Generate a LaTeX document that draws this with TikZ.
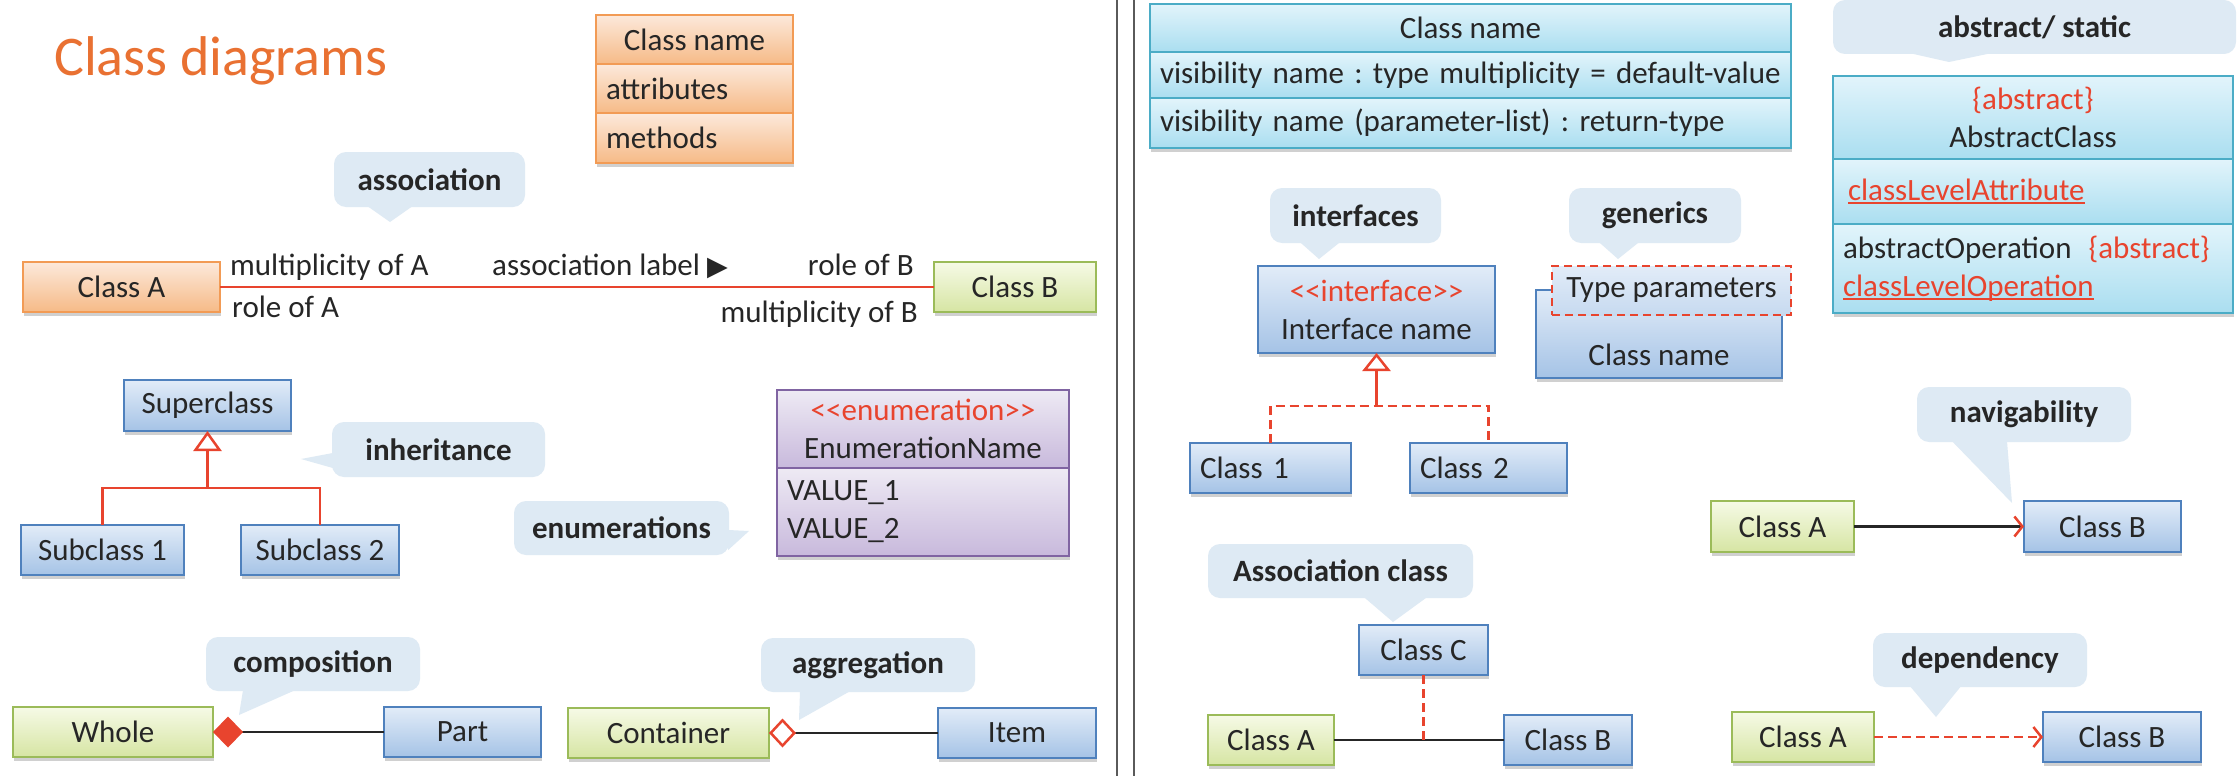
\documentclass[tikz,border=0pt]{standalone}
\usepackage{fontspec}
\setmainfont{Carlito}
\newfontfamily\symfont{DejaVu Sans}
\usetikzlibrary{positioning,arrows.meta,shadows}

\definecolor{umlred}{RGB}{232,68,46}
\definecolor{titleorange}{RGB}{233,113,50}
\definecolor{textdark}{RGB}{38,38,38}
\definecolor{notefill}{RGB}{222,234,244}
\definecolor{orline}{RGB}{242,155,85}
\definecolor{ortop}{RGB}{252,233,219}
\definecolor{orbot}{RGB}{246,186,135}
\definecolor{blline}{RGB}{79,129,189}
\definecolor{bltop}{RGB}{226,236,248}
\definecolor{blbot}{RGB}{165,195,230}
\definecolor{grline}{RGB}{155,187,89}
\definecolor{grtop}{RGB}{246,250,230}
\definecolor{grbot}{RGB}{214,229,163}
\definecolor{puline}{RGB}{128,100,162}
\definecolor{putop}{RGB}{238,234,244}
\definecolor{pubot}{RGB}{200,185,220}
\definecolor{cyline}{RGB}{75,172,198}
\definecolor{cytop}{RGB}{226,244,251}
\definecolor{cybot}{RGB}{170,222,240}
\definecolor{divgray}{RGB}{90,90,90}

\newcommand{\redul}[1]{\textcolor{umlred}{\setbox0\hbox{#1}\rlap{\rule[-4pt]{\wd0}{2.5pt}}\box0}}

\tikzset{
  base/.style={font=\fontsize{31}{38}\selectfont\frenchspacing, text=textdark},
  plainbox/.style={base, draw, line width=2.5pt, outer sep=0pt, inner xsep=10pt, minimum height=50pt},
  box/.style={plainbox, drop shadow={shadow xshift=1pt, shadow yshift=-4pt, opacity=0.3, fill=black!60}},
  orangebox/.style={box, draw=orline, top color=ortop, bottom color=orbot},
  bluebox/.style={box, draw=blline, top color=bltop, bottom color=blbot},
  greenbox/.style={box, draw=grline, top color=grtop, bottom color=grbot},
  purplebox/.style={box, draw=puline, top color=putop, bottom color=pubot},
  cyanbox/.style={box, draw=cyline, top color=cytop, bottom color=cybot},
  note/.style={base, font=\fontsize{31}{38}\selectfont\bfseries, fill=notefill, rounded corners=12pt, minimum height=55pt},
  lbl/.style={base, inner sep=0pt},
  assoc/.style={umlred, line width=2.5pt},
  link/.style={textdark, line width=2.5pt},
  dep/.style={umlred, line width=2.5pt, dash pattern=on 9pt off 5pt},
}

\begin{document}
\begin{tikzpicture}[x=1pt, y=-1pt]
    \fill[white] (0,0) rectangle (2238,776);
    \useasboundingbox (0,0) rectangle (2238,776);

    % left half
    \node[anchor=base west, inner sep=0pt, font=\fontsize{56}{60}\selectfont, text=titleorange] (title) at (54,75) {Class diagrams};

    \node[orangebox, minimum width=197pt, minimum height=49pt] (cnHead) at (694.5,39.5) {Class name};
    \node[orangebox, minimum width=197pt, minimum height=49pt, text width=177pt, align=left, below=0pt of cnHead] (cnAttr) {attributes};
    \node[orangebox, minimum width=197pt, minimum height=50pt, text width=177pt, align=left, below=0pt of cnAttr] (cnMeth) {methods};

    % association
    \node[note, minimum width=191pt] (assocNote) at (429.5,179.5) {association};
    \fill[notefill] ([xshift=-62pt,yshift=1pt]assocNote.south) -- (390,222) -- ([xshift=-17pt,yshift=1pt]assocNote.south) -- cycle;
    \node[orangebox, minimum width=197pt] (clsA) at (121.5,287) {Class A};
    \node[greenbox, minimum width=162pt] (clsB) at (1015,287) {Class B};
    \draw[assoc] (clsA) -- (clsB);
    \node[lbl, anchor=base west] (multA) at ([shift={(10pt,12pt)}]clsA.east) {multiplicity of A};
    \node[lbl, anchor=base west] (roleA) at ([shift={(12pt,-30pt)}]clsA.east) {role of A};
    \node[lbl, anchor=base east] (roleB) at ([shift={(-20pt,12pt)}]clsB.west) {role of B};
    \node[lbl, anchor=base east] (multB) at ([shift={(-16pt,-35pt)}]clsB.west) {multiplicity of B};
    \node[lbl, anchor=base west] (assocLbl) at (492,275) {association label {\symfont\fontsize{27}{27}\selectfont ▶}};

    % inheritance
    \node[bluebox, minimum width=167pt, minimum height=51pt] (super) at (207.5,405.5) {Superclass};
    \node[bluebox, minimum width=163pt] (sub1) at (102.5,550) {Subclass 1};
    \node[bluebox, minimum width=158pt] (sub2) at (320,550) {Subclass 2};
    \coordinate (inhJoint) at (207.5,488);
    \draw[assoc] (sub1.north) |- (inhJoint) -| (sub2.north);
    \draw[assoc, -{Triangle[open, length=20pt, width=28pt]}] (inhJoint) -- (super.south);
    \node[note, minimum width=213pt] (inhNote) at (438.5,449.5) {inheritance};
    \fill[notefill] ([shift={(1pt,-3.5pt)}]inhNote.west) -- (301,459) -- ([shift={(1pt,-18.5pt)}]inhNote.west) -- cycle;

    % enumeration
    \node[purplebox, minimum width=292pt, minimum height=78pt, align=center] (enumHead) at (923,429) {\textcolor{umlred}{<\kern0pt<enumeration>\kern0pt>}\\EnumerationName};
    \node[purplebox, minimum width=292pt, minimum height=88pt, text width=272pt, align=left, below=0pt of enumHead] (enumVals) {VALUE\_1\\VALUE\_2};
    \node[note, minimum width=215pt, minimum height=54pt] (enumNote) at (621.5,528) {enumerations};
    \fill[notefill] ([shift={(-1pt,-2pt)}]enumNote.east) -- (749,531) -- ([shift={(-1pt,-22pt)}]enumNote.east) -- cycle;

    % composition
    \node[greenbox, minimum width=200pt] (whole) at (113,732) {Whole};
    \node[bluebox, minimum width=157pt] (part) at (462.5,732) {Part};
    \draw[link, {Diamond[length=30pt, width=31pt, color=umlred, fill=umlred]}-] (whole) -- (part);
    \node[note, minimum width=214pt, minimum height=54pt] (compNote) at (313,664) {composition};
    \fill[notefill] ([xshift=-70pt,yshift=1pt]compNote.south) -- (239,715) -- ([xshift=-18pt,yshift=1pt]compNote.south) -- cycle;

    % aggregation
    \node[greenbox, minimum width=201pt] (container) at (668.5,733) {Container};
    \node[bluebox, minimum width=158pt] (item) at (1017,733) {Item};
    \draw[link, {Diamond[open, length=27pt, width=29pt, color=umlred]}-] (container) -- (item);
    \node[note, minimum width=214pt, minimum height=54pt] (aggNote) at (868,665) {aggregation};
    \fill[notefill] ([xshift=-68pt,yshift=1pt]aggNote.south) -- (799,720) -- ([xshift=-18pt,yshift=1pt]aggNote.south) -- cycle;

    % divider
    \draw[divgray, line width=1.5pt] (1117,0) -- (1117,776) (1134,0) -- (1134,776);

    % right half
    \node[cyanbox, minimum width=641pt, minimum height=48pt] (fmtHead) at (1470.5,28) {Class name};
    \node[cyanbox, minimum width=641pt, minimum height=46pt, text width=621pt, align=left, below=0pt of fmtHead] (fmtAttr) {visibility name : type multiplicity = default-value};
    \node[cyanbox, minimum width=641pt, minimum height=50pt, text width=621pt, align=left, below=0pt of fmtAttr] (fmtOps) {visibility name (parameter-list) : return-type};

    % abstract / static
    \node[note, minimum width=403pt, minimum height=54pt] (absNote) at (2034.5,27) {abstract/ static};
    \fill[notefill] ([xshift=-124.5pt,yshift=1pt]absNote.south) -- (1949,62) -- ([xshift=-43.5pt,yshift=1pt]absNote.south) -- cycle;
    \node[cyanbox, minimum width=400pt, minimum height=83pt, align=center] (absHead) at (2033,117.5) {\textcolor{umlred}{\{abstract\}}\\AbstractClass};
    \node[cyanbox, minimum width=400pt, minimum height=65pt, text width=380pt, align=left, below=0pt of absHead] (absAttr) {\hspace{5pt}\redul{classLevelAttribute}};
    \node[cyanbox, minimum width=400pt, minimum height=89pt, text width=380pt, align=left, below=0pt of absAttr] (absOps) {abstractOperation\hspace{17pt}\textcolor{umlred}{\{abstract\}}\\\redul{classLevelOperation}};

    % interfaces
    \node[note, minimum width=171pt] (ifaceNote) at (1355.5,215.5) {interfaces};
    \fill[notefill] ([xshift=-55.5pt,yshift=1pt]ifaceNote.south) -- (1319,259) -- ([xshift=-15.5pt,yshift=1pt]ifaceNote.south) -- cycle;
    \node[bluebox, minimum width=237pt, minimum height=87pt, align=center] (iface) at (1376.5,309.5) {\textcolor{umlred}{<\kern0pt<interface>\kern0pt>}\\Interface name};
    \node[bluebox, minimum width=161pt, text width=141pt, align=left] (impl1) at (1270.5,468) {Class 1};
    \node[bluebox, minimum width=157pt, text width=137pt, align=left] (impl2) at (1488.5,468) {Class 2};
    \coordinate (implJoint) at (1376.5,406);
    \draw[dep] (impl1.north) |- (implJoint) -| (impl2.north);
    \draw[assoc, -{Triangle[open, length=18pt, width=28pt]}] (implJoint) -- (iface.south);

    % generics
    \node[note, minimum width=172pt] (genNote) at (1655,215.5) {generics};
    \fill[notefill] ([xshift=-56pt,yshift=1pt]genNote.south) -- (1618,259) -- ([xshift=-16pt,yshift=1pt]genNote.south) -- cycle;
    \node[bluebox, minimum width=246pt, minimum height=88pt, text height=62pt, text depth=0pt] (genCls) at (1659,334) {Class name};
    \node[plainbox, draw=umlred, dash pattern=on 8pt off 5pt, top color=bltop, bottom color=bltop!55!blbot, minimum width=239pt, minimum height=49pt] (genParams) at (1671.5,290.5) {Type parameters};

    % navigability
    \node[note, minimum width=214pt] (navNote) at (2024,414.5) {navigability};
    \fill[notefill] ([xshift=-72pt,yshift=1pt]navNote.south) -- (2012,503) -- ([xshift=-17pt,yshift=1pt]navNote.south) -- cycle;
    \node[greenbox, minimum width=143pt, minimum height=51pt] (navA) at (1782.5,526.5) {Class A};
    \node[bluebox, minimum width=157pt, minimum height=51pt] (navB) at (2102.5,526.5) {Class B};
    \draw[link, -{Straight Barb[color=umlred, length=8pt, width=20pt]}] (navA) -- (navB);

    % association class
    \node[note, minimum width=265pt, minimum height=54pt] (acNote) at (1340.5,571) {Association class};
    \fill[notefill] ([xshift=23.5pt,yshift=1pt]acNote.south) -- (1393,622) -- ([xshift=86.5pt,yshift=1pt]acNote.south) -- cycle;
    \node[bluebox, minimum width=129pt] (acC) at (1423.5,650) {Class C};
    \node[greenbox, minimum width=126pt] (acA) at (1271,740) {Class A};
    \node[bluebox, minimum width=128pt] (acB) at (1568,740) {Class B};
    \draw[link] (acA) -- (acB);
    \draw[dep] (acC.south) -- (acC.south |- acA.east);

    % dependency
    \node[note, minimum width=214pt, minimum height=54pt] (depNote) at (1980,660) {dependency};
    \fill[notefill] ([xshift=-70pt,yshift=1pt]depNote.south) -- (1936,717) -- ([xshift=-19pt,yshift=1pt]depNote.south) -- cycle;
    \node[greenbox, minimum width=142pt] (depA) at (1803,737) {Class A};
    \node[bluebox, minimum width=158pt] (depB) at (2122,737) {Class B};
    \draw[dep, -{Straight Barb[length=8pt, width=20pt]}] (depA) -- (depB);
\end{tikzpicture}
\end{document}
